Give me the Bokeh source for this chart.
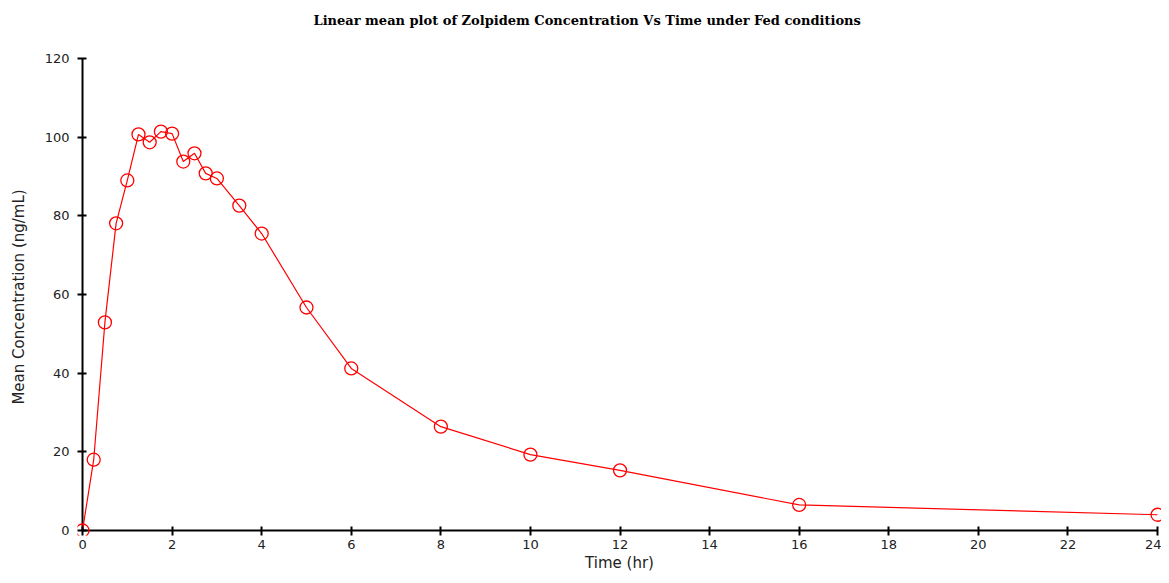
from bokeh.plotting import figure
from bokeh.models import Range1d, FixedTicker, BoxAnnotation, Title
from bokeh.embed import file_html
from bokeh.resources import INLINE

title_text = "Linear mean plot of Zolpidem Concentration Vs  Time under Fed conditions"
time_hr = [0, 0.25, 0.5, 0.75, 1, 1.25, 1.5, 1.75, 2, 2.25, 2.5, 2.75, 3, 3.5, 4, 5, 6, 8, 10, 12, 16, 24]
mean_conc = [0, 18.0, 52.9, 78.1, 89.0, 100.7, 98.7, 101.4, 100.9, 93.8, 95.9, 90.8, 89.5, 82.6, 75.5, 56.7, 41.2, 26.4, 19.3, 15.3, 6.5, 4.0]
x_ticks = [0, 2, 4, 6, 8, 10, 12, 14, 16, 18, 20, 22, 24]
y_ticks = [0, 20, 40, 60, 80, 100, 120]

p = figure(width=1161, height=575, output_backend="svg", toolbar_location=None,
           x_range=Range1d(-0.112, 24.089), y_range=Range1d(-1.27, 120),
           min_border_left=77, min_border_right=0, min_border_top=58, min_border_bottom=40)
p.outline_line_color = None
p.grid.visible = False
p.background_fill_color = "white"
p.border_fill_color = "white"

# blank spacer title next to the frame, then the real title above it
p.add_layout(Title(text=" ", text_font_size="13px", standoff=14), "above")
p.add_layout(Title(text=title_text, align="left", offset=236, standoff=0,
                   vertical_align="bottom", text_font="DejaVu Serif",
                   text_font_style="bold", text_font_size="13px", text_color="black"), "above")

for ax in (p.xaxis[0], p.yaxis[0]):
    ax.axis_line_color = None
    ax.major_tick_line_color = "black"
    ax.major_tick_line_width = 2
    ax.major_tick_out = 0
    ax.major_tick_in = 9
    ax.minor_tick_line_color = None
    ax.major_label_text_font = "DejaVu Sans"
    ax.major_label_text_font_size = "13px"
    ax.major_label_text_color = "#222222"
    ax.axis_label_text_font = "DejaVu Sans"
    ax.axis_label_text_font_size = "15px"
    ax.axis_label_text_font_style = "normal"
    ax.axis_label_text_color = "#222222"

p.xaxis[0].ticker = FixedTicker(ticks=x_ticks)
p.yaxis[0].ticker = FixedTicker(ticks=y_ticks)
p.xaxis[0].axis_label = "Time (hr)"
p.yaxis[0].axis_label = "Mean Concentration (ng/mL)"
p.xaxis[0].major_label_standoff = 4
p.yaxis[0].major_label_standoff = 8
p.xaxis[0].axis_label_standoff = 2
p.yaxis[0].axis_label_standoff = 14

# axis lines drawn at the data origin (x = 0 and y = 0)
p.add_layout(BoxAnnotation(left=0, right=24, bottom=0, top=0, fill_color=None,
                           line_color="black", line_alpha=1.0, line_width=2, level="underlay"))
p.add_layout(BoxAnnotation(left=0, right=0, bottom=0, top=120, fill_color=None,
                           line_color="black", line_alpha=1.0, line_width=2, level="underlay"))

p.line(time_hr, mean_conc, line_color="red", line_width=1.2)
p.scatter(time_hr, mean_conc, marker="circle", size=13, fill_color=None,
          line_color="red", line_width=1.3)

open("out.html", "w").write(file_html(p, INLINE))
